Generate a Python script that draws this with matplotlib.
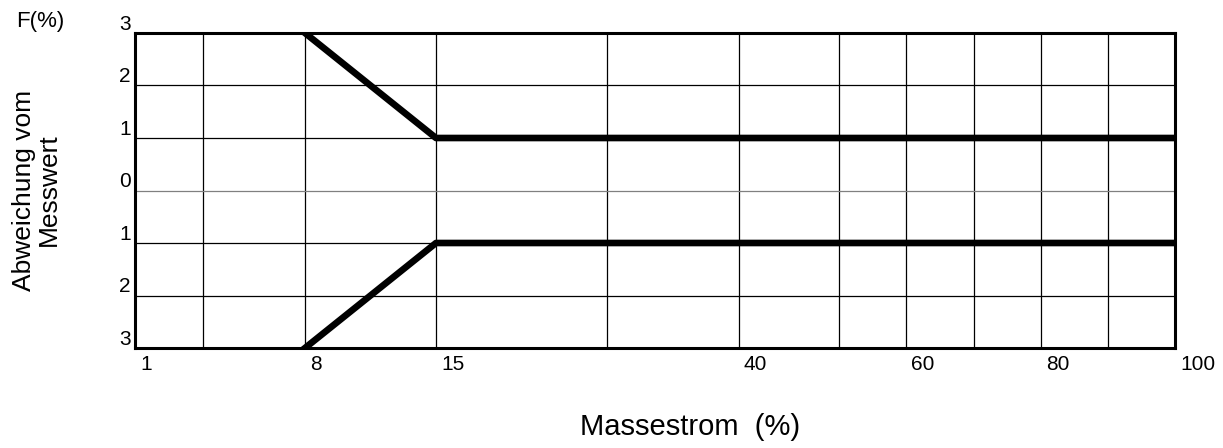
import numpy as np
import matplotlib
matplotlib.use('Agg')
import matplotlib.pyplot as plt
import matplotlib.transforms as mtransforms

plt.rcParams['font.family'] = ['Liberation Sans', 'DejaVu Sans']

# data: error band limits vs. mass flow
mass = [8, 15, 100]
upper = [3, 1, 1]
lower = [-3, -1, -1]

x_ticks = [1, 8, 15, 40, 60, 80, 100]
x_minor = [4, 30, 50, 70, 90]
y_ticks = [-3, -2, -1, 0, 1, 2, 3]
y_labels = ['3', '2', '1', '0', '1', '2', '3']

# non-linear x axis of the original sheet (value -> relative position)
scale_vals = [1, 4, 8, 15, 30, 40, 50, 60, 70, 80, 90, 100]
scale_pos = np.array([135, 203, 305, 436, 607, 739, 839, 906, 974, 1041, 1108, 1175])
scale_pos = (scale_pos - 135) / 1040.0

def fwd(x):
    return np.interp(x, scale_vals, scale_pos)

def inv(p):
    return np.interp(p, scale_pos, scale_vals)

fig = plt.figure(figsize=(12.23, 4.48), dpi=100)
ax = fig.add_axes([135/1223, 1-348/448, 1040/1223, 315/448])
ax.set_xscale('function', functions=(fwd, inv))
ax.set_xlim(1, 100)
ax.set_ylim(-3, 3)

ax.plot(mass, upper, color='black', lw=4.8, zorder=3)
ax.plot(mass, lower, color='black', lw=4.8, zorder=3)

ax.set_xticks(x_ticks)
ax.set_xticks(x_minor, minor=True)
ax.set_yticks(y_ticks)

ax.tick_params(axis='both', which='both', length=0)
ax.tick_params(axis='x', pad=5)
ax.tick_params(axis='y', pad=3)

ax.set_xticklabels([str(v) for v in x_ticks], fontsize=15, ha='left')
ax.set_yticklabels(y_labels, fontsize=15)

ax.grid(True, which='both', color='black', lw=0.9)
ax.yaxis.get_gridlines()[3].set_color('#808080')

for lab in ax.get_xticklabels():
    lab.set_transform(lab.get_transform() + mtransforms.ScaledTranslation(5/100, 0, fig.dpi_scale_trans))
for lab in ax.get_yticklabels():
    lab.set_transform(lab.get_transform() + mtransforms.ScaledTranslation(0, 11/100, fig.dpi_scale_trans))

for s in ax.spines.values():
    s.set_linewidth(2.2)
    s.set_zorder(4)

fig.text(40/1223, 1-22/448, 'F(%)', fontsize=16, ha='center', va='center')
fig.text(36/1223, 1-190/448, 'Abweichung vom\nMesswert', fontsize=19, rotation=90,
         ha='center', va='center', multialignment='center', linespacing=1.05)
fig.text(690/1223, 1-427/448, 'Massestrom  (%)', fontsize=21, ha='center', va='center')

fig.savefig('out.png', dpi=100)
